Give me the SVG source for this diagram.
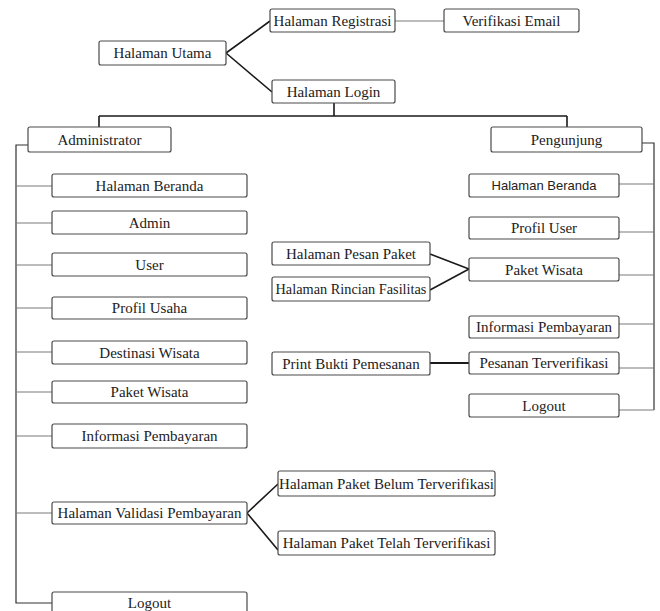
<svg xmlns="http://www.w3.org/2000/svg" width="660" height="611" viewBox="0 0 660 611">
<style>
.box{fill:#fff;stroke:#4a4a4a;stroke-width:1.2}
.t{font-family:"Liberation Serif","Times New Roman",serif;font-size:15px;fill:#222;text-anchor:middle}
.a{font-family:"Liberation Sans",Arial,sans-serif;font-size:13px;fill:#222;text-anchor:middle}
.dk{fill:none;stroke:#1a1a1a;stroke-width:1.6}
.gr{fill:none;stroke:#7a7a7a;stroke-width:1.1}
.sp{fill:none;stroke:#333;stroke-width:1.2}
</style>
<rect width="660" height="611" fill="#fff"/>
<g id="connectors">
<path class="dk" d="M226 53 L270 21 M226 53 L272 92"/>
<path class="gr" d="M395 21 H444"/>
<path class="dk" d="M334 103 V116 M99 116 H567 M99 116 V127 M567 116 V127"/>
<path class="sp" d="M28 145 H16 V603 H52"/>
<path class="gr" d="M16 186 H52 M16 223 H52 M16 265 H52 M16 308 H52 M16 352 H52 M16 392 H52 M16 436 H52 M16 513 H52"/>
<path class="dk" d="M247 513 L278 484 M247 513 L278 550"/>
<path class="sp" d="M642 143 H654 V410"/>
<path class="gr" d="M619 184 H654 M619 232 H654 M619 275 H654 M619 324 H654 M619 368 H654 M619 410 H654"/>
<path class="dk" d="M430 254 L469 269 M430 290 L469 269"/>
<path class="dk" d="M430 363 H469" style="stroke-width:2"/>
</g>
<g id="n-utama"><rect class="box" x="99" y="41" width="127" height="24" rx="2"/><text class="t" x="162.5" y="58">Halaman Utama</text></g>
<g id="n-registrasi"><rect class="box" x="270" y="9" width="125" height="23" rx="2"/><text class="t" x="332.5" y="25.5">Halaman Registrasi</text></g>
<g id="n-verifikasi"><rect class="box" x="444" y="9" width="135" height="23" rx="2"/><text class="t" x="511.5" y="25.5">Verifikasi Email</text></g>
<g id="n-login"><rect class="box" x="272" y="80" width="123" height="23" rx="2"/><text class="t" x="333.5" y="96.5">Halaman Login</text></g>
<g id="n-administrator"><rect class="box" x="28" y="127" width="143" height="25" rx="2"/><text class="t" x="99.5" y="144.5">Administrator</text></g>
<g id="n-pengunjung"><rect class="box" x="491" y="127" width="151" height="25" rx="2"/><text class="t" x="566.5" y="144.5">Pengunjung</text></g>
<g id="a-beranda"><rect class="box" x="52" y="174" width="195" height="23" rx="2"/><text class="t" x="149.5" y="190.5">Halaman Beranda</text></g>
<g id="a-admin"><rect class="box" x="52" y="211" width="195" height="23" rx="2"/><text class="t" x="149.5" y="227.5">Admin</text></g>
<g id="a-user"><rect class="box" x="52" y="253" width="195" height="23" rx="2"/><text class="t" x="149.5" y="269.5">User</text></g>
<g id="a-profil"><rect class="box" x="52" y="297" width="195" height="22" rx="2"/><text class="t" x="149.5" y="313">Profil Usaha</text></g>
<g id="a-destinasi"><rect class="box" x="52" y="341" width="195" height="23" rx="2"/><text class="t" x="149.5" y="357.5">Destinasi Wisata</text></g>
<g id="a-paket"><rect class="box" x="52" y="381" width="195" height="22" rx="2"/><text class="t" x="149.5" y="397">Paket Wisata</text></g>
<g id="a-informasi"><rect class="box" x="52" y="424" width="195" height="24" rx="2"/><text class="t" x="149.5" y="441">Informasi Pembayaran</text></g>
<g id="a-validasi"><rect class="box" x="52" y="502" width="195" height="22" rx="2"/><text class="t" x="149.5" y="518">Halaman Validasi Pembayaran</text></g>
<g id="a-logout"><rect class="box" x="52" y="592" width="195" height="24" rx="2"/><text class="t" x="149.5" y="608">Logout</text></g>
<g id="v-belum"><rect class="box" x="278" y="471" width="217" height="25" rx="2"/><text class="t" x="386.5" y="488.5">Halaman Paket Belum Terverifikasi</text></g>
<g id="v-telah"><rect class="box" x="278" y="531" width="217" height="24" rx="2"/><text class="t" x="386.5" y="548">Halaman Paket Telah Terverifikasi</text></g>
<g id="p-beranda"><rect class="box" x="469" y="174" width="150" height="23" rx="2"/><text class="a" x="544" y="190">Halaman Beranda</text></g>
<g id="p-profil"><rect class="box" x="469" y="217" width="150" height="22" rx="2"/><text class="t" x="544" y="233">Profil User</text></g>
<g id="p-paket"><rect class="box" x="469" y="258" width="150" height="23" rx="2"/><text class="t" x="544" y="274.5">Paket Wisata</text></g>
<g id="p-informasi"><rect class="box" x="469" y="316" width="150" height="22" rx="2"/><text class="t" x="544" y="332">Informasi Pembayaran</text></g>
<g id="p-pesanan"><rect class="box" x="469" y="352" width="150" height="22" rx="2"/><text class="t" x="544" y="368">Pesanan Terverifikasi</text></g>
<g id="p-logout"><rect class="box" x="469" y="394" width="150" height="23" rx="2"/><text class="t" x="544" y="410.5">Logout</text></g>
<g id="m-pesan"><rect class="box" x="272" y="242" width="158" height="23" rx="2"/><text class="t" x="351" y="258.5">Halaman Pesan Paket</text></g>
<g id="m-rincian"><rect class="box" x="272" y="277" width="158" height="24" rx="2"/><text class="t" x="351" y="294" style="font-size:14.3px">Halaman Rincian Fasilitas</text></g>
<g id="m-print"><rect class="box" x="272" y="352" width="158" height="23" rx="2"/><text class="t" x="351" y="368.5">Print Bukti Pemesanan</text></g>
</svg>
